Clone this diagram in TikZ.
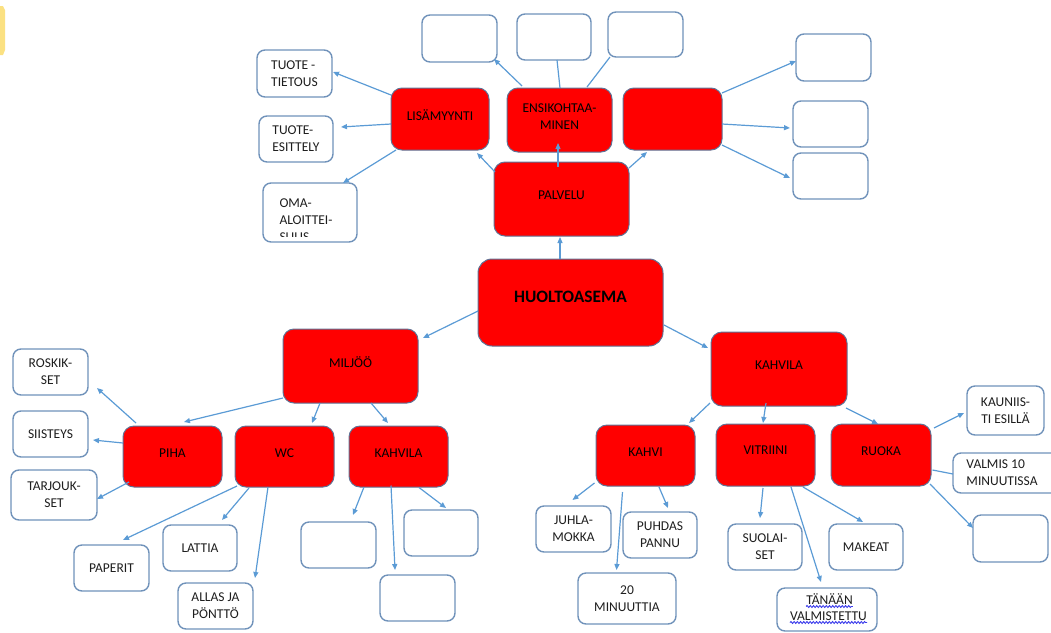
\documentclass[tikz,border=0pt]{standalone}
\usepackage{fontspec}
\setmainfont{Carlito}
\usetikzlibrary{arrows.meta,decorations.pathmorphing}
\definecolor{boxred}{RGB}{255,0,0}
\definecolor{rededge}{RGB}{95,115,150}
\definecolor{wedge}{RGB}{112,146,186}
\definecolor{linkblue}{RGB}{91,155,213}
\definecolor{txt}{RGB}{30,30,30}
\definecolor{squigblue}{RGB}{60,60,235}
\definecolor{tabyellow}{RGB}{251,225,130}

\begin{document}
\begin{tikzpicture}[x=1pt,y=-1pt,
  lbl/.style={font=\fontsize{13.5}{17}\selectfont},
  redbox/.style={lbl, draw=rededge, line width=1pt, fill=boxred, rounded corners=11pt,
                 inner sep=0pt, align=center, text=black, text depth=7pt},
  wbox/.style={lbl, draw=wedge, line width=1.4pt, fill=white, rounded corners=8pt,
               inner sep=0pt, align=center, text=txt},
  textonly/.style={lbl, inner sep=0pt, align=left, text=txt},
  sz/.style 2 args={minimum width=#1pt, minimum height=#2pt},
  arrowlink/.style={draw=linkblue, line width=1.2pt, -{Triangle[length=6pt,width=5pt]}},
  plainlink/.style={draw=linkblue, line width=1.2pt},
  squig/.style={draw=squigblue, line width=0.9pt, decorate,
                decoration={snake, segment length=3.2pt, amplitude=1pt}},
]
\useasboundingbox (0,0) rectangle (1051,632);
\clip (0,0) rectangle (1051,632);

% small tab at the left edge
\fill[tabyellow] (0,6) -- (3,6) -- (5,10) -- (5,50) -- (3,55) -- (0,55) -- cycle;

% ---------- centre ----------
\node[redbox, sz={185}{87}, rounded corners=14pt, text depth=11pt,
      font=\bfseries\fontsize{17.4}{20}\selectfont]
  (hub) at (570.5,302.5) {HUOLTOASEMA};

% ---------- PALVELU branch ----------
\node[redbox, sz={135}{74}] (palvelu) at (561.5,199) {PALVELU};
\node[redbox, sz={98}{62}]  (lisa)    at (440,119)   {LISÄMYYNTI};
\node[redbox, sz={105}{64}] (ensi)    at (559.5,120) {ENSIKOHTAA-\\MINEN};
\node[redbox, sz={99}{62}]  (pred)    at (672.5,119) {};

\node[wbox, sz={75}{47}] (t1) at (459.5,38.5) {};
\node[wbox, sz={74}{46}] (t2) at (554,37) {};
\node[wbox, sz={75}{45}] (t3) at (645.5,34.5) {};
\node[wbox, sz={75}{47}] (r1) at (833.5,57.5) {};
\node[wbox, sz={75}{46}] (r2) at (830.5,124) {};
\node[wbox, sz={75}{46}] (r3) at (830.5,176) {};

\node[wbox, sz={75}{47}, align=left] (tietous)  at (294.5,73.5) {TUOTE -\\TIETOUS};
\node[wbox, sz={74}{46}, align=left] (esittely) at (296,139)    {TUOTE-\\ESITTELY};
\node[wbox, sz={94}{59}] (oma) at (310,212.5) {};
\begin{scope}
  \clip ([shift={(1,1)}]oma.north west) rectangle ([shift={(-1,-6)}]oma.south east);
  \node[textonly] (omatext) at (306,220) {OMA-\\ALOITTEI-\\SUUS};
\end{scope}

% ---------- MILJÖÖ branch ----------
\node[redbox, sz={135}{74}] (miljoo)   at (350.5,366)   {MILJÖÖ};
\node[redbox, sz={99}{61}]  (piha)     at (172.5,456.5) {PIHA};
\node[redbox, sz={99}{61}]  (wc)       at (284.5,456.5) {WC};
\node[redbox, sz={99}{61}]  (kahvila2) at (398.5,456.5) {KAHVILA};

\node[wbox, sz={75}{46}] (roskik)   at (50.5,372)  {ROSKIK-\\SET};
\node[wbox, sz={75}{46}] (siisteys) at (50.5,434)  {SIISTEYS};
\node[wbox, sz={86}{50}] (tarjous)  at (54,495)    {TARJOUK-\\SET};
\node[wbox, sz={75}{46}] (paperit)  at (111.5,568) {PAPERIT};
\node[wbox, sz={74}{46}] (lattia)   at (200,548)   {LATTIA};
\node[wbox, sz={75}{46}] (allas)    at (215.5,606) {ALLAS JA\\PÖNTTÖ};
\node[wbox, sz={75}{46}] (ea) at (338.5,545) {};
\node[wbox, sz={74}{46}] (eb) at (441,533)   {};
\node[wbox, sz={75}{46}] (ec) at (417.5,598) {};

% ---------- KAHVILA branch ----------
\node[redbox, sz={136}{74}] (kahvila)  at (779,369)     {KAHVILA};
\node[redbox, sz={99}{61}]  (kahvi)    at (645.5,455.5) {KAHVI};
\node[redbox, sz={99}{62}, text depth=10pt] (vitriini) at (765.5,455) {VITRIINI};
\node[redbox, sz={100}{62}] (ruoka)    at (881,455)     {RUOKA};

\node[wbox, sz={77}{49}] (kauniis) at (1005.5,410.5) {KAUNIIS-\\TI ESILLÄ};
\node[wbox, sz={107}{40}] (valmis) at (1006.5,473) {};
\node[textonly] (valmistext) at (1002,473) {VALMIS 10\\MINUUTISSA};
\node[wbox, sz={75}{47}] (ee)     at (1010.5,538.5) {};
\node[wbox, sz={75}{46}] (juhla)  at (573.5,529)   {JUHLA-\\MOKKA};
\node[wbox, sz={74}{46}] (puhdas) at (660,535)     {PUHDAS\\PANNU};
\node[wbox, sz={98}{51}] (min20)  at (627,598.5)   {20\\MINUUTTIA};
\node[wbox, sz={74}{46}] (suolai) at (765,547)     {SUOLAI-\\SET};
\node[wbox, sz={74}{46}] (makeat) at (866,547)     {MAKEAT};
\node[wbox, sz={100}{43}] (tanaan) at (827,609.5)  {};
\node[lbl, inner sep=0pt, text=txt, anchor=base] (tanaan1) at (829.5,604) {TÄNÄÄN};
\node[lbl, inner sep=0pt, text=txt, anchor=base] (tanaan2) at (828.5,620) {VALMISTETTU};
% spell-check squiggles under both words
\draw[squig] ([shift={(0,2.5)}]tanaan1.base west) -- ([shift={(0,2.5)}]tanaan1.base east);
\draw[squig] ([shift={(0,2.5)}]tanaan2.base west) -- ([shift={(0,2.5)}]tanaan2.base east);

% ---------- connectors ----------
\draw[arrowlink] ([shift={(-10.5,-43.5)}]hub.center) -- ([shift={(-1.5,38)}]palvelu.center);
\draw[arrowlink] ([shift={(-66.5,-27)}]palvelu.center) -- ([shift={(37,34)}]lisa.center);
\draw[arrowlink] ([shift={(-3.5,-32)}]palvelu.center) -- ([shift={(-1.5,23)}]ensi.center);
\draw[arrowlink] ([shift={(67.5,-31)}]palvelu.center) -- ([shift={(-25.5,33)}]pred.center);
\draw[arrowlink] ([shift={(-49,-24)}]lisa.center) -- ([shift={(38.5,-1.5)}]tietous.center);
\draw[arrowlink] ([shift={(-49,5)}]lisa.center) -- ([shift={(45,-12)}]esittely.center);
\draw[arrowlink] ([shift={(-44,31)}]lisa.center) -- ([shift={(33,-29.5)}]oma.center);
\draw[arrowlink] ([shift={(-37.5,-34)}]ensi.center) -- ([shift={(34.5,20.5)}]t1.center);
\draw[plainlink] ([shift={(0.5,-32)}]ensi.center) -- ([shift={(3,23)}]t2.center);
\draw[plainlink] ([shift={(27.5,-33)}]ensi.center) -- ([shift={(-35.5,22.5)}]t3.center);
\draw[arrowlink] ([shift={(49.5,-26)}]pred.center) -- ([shift={(-37.5,3.5)}]r1.center);
\draw[arrowlink] ([shift={(49.5,5)}]pred.center) -- ([shift={(-40.5,4)}]r2.center);
\draw[arrowlink] ([shift={(49.5,26)}]pred.center) -- ([shift={(-40.5,2)}]r3.center);

\draw[arrowlink] ([shift={(-92.5,8.5)}]hub.center) -- ([shift={(72.5,-28)}]miljoo.center);
\draw[arrowlink] ([shift={(93.5,22.5)}]hub.center) -- ([shift={(-71,-21)}]kahvila.center);

\draw[arrowlink] ([shift={(-67.5,32)}]miljoo.center) -- ([shift={(11.5,-34.5)}]piha.center);
\draw[arrowlink] ([shift={(-30.5,37)}]miljoo.center) -- ([shift={(27.5,-33.5)}]wc.center);
\draw[arrowlink] ([shift={(20.5,37)}]miljoo.center) -- ([shift={(-10.5,-33.5)}]kahvila2.center);
\draw[arrowlink] ([shift={(-36.5,-33.5)}]piha.center) -- ([shift={(46.5,16)}]roskik.center);
\draw[arrowlink] ([shift={(-49.5,-13.5)}]piha.center) -- ([shift={(42.5,6)}]siisteys.center);
\draw[arrowlink] ([shift={(-43.5,25.5)}]piha.center) -- ([shift={(43,4)}]tarjous.center);
\draw[arrowlink] ([shift={(-47.5,29.5)}]wc.center) -- ([shift={(11.5,-28)}]paperit.center);
\draw[arrowlink] ([shift={(-35.5,31.5)}]wc.center) -- ([shift={(22,-28)}]lattia.center);
\draw[arrowlink] ([shift={(-16.5,30.5)}]wc.center) -- ([shift={(39.5,-28)}]allas.center);
\draw[arrowlink] ([shift={(-34.5,30.5)}]kahvila2.center) -- ([shift={(14.5,-30)}]ea.center);
\draw[arrowlink] ([shift={(-7.5,29)}]kahvila2.center) -- ([shift={(-22.5,-28)}]ec.center);
\draw[arrowlink] ([shift={(20.5,31)}]kahvila2.center) -- ([shift={(5,-25)}]eb.center);

\draw[arrowlink] ([shift={(-69,34)}]kahvila.center) -- ([shift={(43.5,-32.5)}]kahvi.center);
\draw[arrowlink] ([shift={(-13,34)}]kahvila.center) -- ([shift={(-2.5,-32)}]vitriini.center);
\draw[arrowlink] ([shift={(67,39)}]kahvila.center) -- ([shift={(-3,-31)}]ruoka.center);
\draw[arrowlink] ([shift={(-51,27.5)}]kahvi.center) -- ([shift={(-1,-29)}]juhla.center);
\draw[arrowlink] ([shift={(-23,36.5)}]kahvi.center) -- ([shift={(-10.5,-28.5)}]min20.center);
\draw[arrowlink] ([shift={(13.5,31.5)}]kahvi.center) -- ([shift={(8,-27)}]puhdas.center);
\draw[arrowlink] ([shift={(-2.5,33)}]vitriini.center) -- ([shift={(-5,-29)}]suolai.center);
\draw[arrowlink] ([shift={(25.5,32)}]vitriini.center) -- ([shift={(-6,-27.5)}]tanaan.center);
\draw[arrowlink] ([shift={(37.5,32)}]vitriini.center) -- ([shift={(-3,-25)}]makeat.center);
\draw[arrowlink] ([shift={(53,-27)}]ruoka.center) -- ([shift={(-41.5,2.5)}]kauniis.center);
\draw[plainlink] ([shift={(51.5,15)}]ruoka.center) -- ([shift={(-53.5,1)}]valmis.center);
\draw[arrowlink] ([shift={(49,29)}]ruoka.center) -- ([shift={(-37.5,-10.5)}]ee.center);
\end{tikzpicture}
\end{document}
